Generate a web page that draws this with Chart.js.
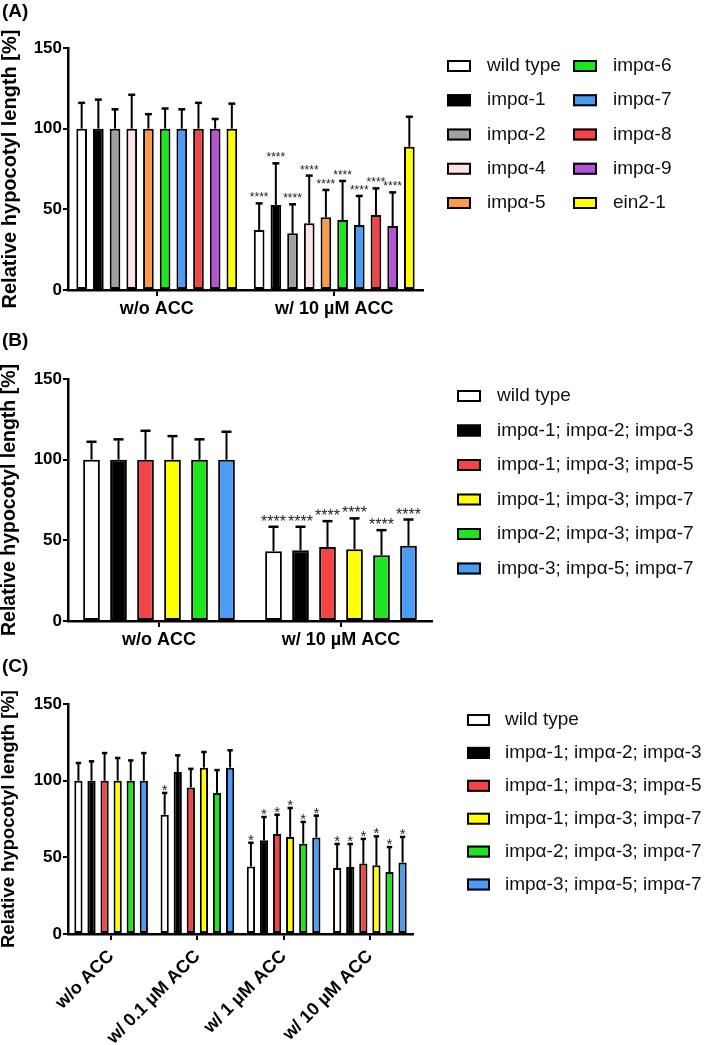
<!DOCTYPE html>
<html><head><meta charset="utf-8">
<script src="https://cdn.jsdelivr.net/npm/chart.js@4.4.1/dist/chart.umd.min.js"></script>
<style>
html,body{margin:0;padding:0;background:#fff;}
body{width:709px;height:1045px;position:relative;overflow:hidden;}
canvas{position:absolute;left:0;}
</style></head><body>
<canvas id="cA" width="709" height="330" style="top:0px"></canvas>
<canvas id="cB" width="709" height="330" style="top:330px"></canvas>
<canvas id="cC" width="709" height="390" style="top:655px"></canvas>
<script>
// ---------- Panel A data ----------
const genotypesA = ['wild type','impα-1','impα-2','impα-4','impα-5','impα-6','impα-7','impα-8','impα-9','ein2-1'];
const categoriesA = ['w/o ACC','w/ 10 µM ACC'];
const meanA_woACC = [100,100,100,100,100,100,100,100,100,100];
const sdA_woACC   = [16,18,12,21,9,12.5,12,16,6,15.5];
const meanA_ACC   = [37.2,52.7,35.1,41.3,45.1,43.4,40.3,46.5,39.7,88.8];
const sdA_ACC     = [16.5,25.8,18,29.6,16.9,24.2,18,16.5,20.8,18.6];
const starsA_ACC  = ['****','****','****','****','****','****','****','****','****',''];
const colorsA = ['#ffffff','#000000','#a0a0a0','#fde3e3','#fb9a45','#1ee61e','#4c9bf5','#f24646','#b453d6','#ffff00'];

// ---------- Panel B data ----------
const genotypesB = ['wild type','impα-1; impα-2; impα-3','impα-1; impα-3; impα-5','impα-1; impα-3; impα-7','impα-2; impα-3; impα-7','impα-3; impα-5; impα-7'];
const categoriesB = ['w/o ACC','w/ 10 µM ACC'];
const meanB_woACC = [100,100,100,100,100,100];
const sdB_woACC   = [11.1,12.6,17.9,14.6,12.6,17.3];
const meanB_ACC   = [43.3,43.9,45.9,44.5,40.8,46.6];
const sdB_ACC     = [15.1,14.5,16,19.1,15.5,16.3];
const starsB_ACC  = ['****','****','****','****','****','****'];
const colorsB = ['#ffffff','#000000','#f24646','#ffff00','#1ee61e','#4c9bf5'];

// ---------- Panel C data ----------
const genotypesC = genotypesB;
const categoriesC = ['w/o ACC','w/ 0.1 µM ACC','w/ 1 µM ACC','w/ 10 µM ACC'];
const meanC_woACC = [100,100,100,100,100,100];
const sdC_woACC   = [11.5,12.6,18,14.8,13.2,18];
const meanC_01    = [77.8,105.6,95.6,108.5,92,108.5];
const sdC_01      = [14.2,10.9,12.1,10.2,14.9,11.3];
const meanC_1     = [44.1,61.1,65.2,63.3,58.9,63];
const sdC_1       = [15.4,15.2,12.6,18.9,14.2,14.2];
const meanC_10    = [43,43.7,45.9,44.8,40.4,46.7];
const sdC_10      = [15.7,15,16.1,18.9,16.3,16.6];
const starsC_01   = ['*','','','','',''];
const starsC_1    = ['*','*','*','*','*','*'];
const starsC_10   = ['*','*','*','*','*','*'];
const colorsC = colorsB;

const yTicks = [0,50,100,150];

// ---------- helpers ----------
const FONT = "'Liberation Sans', Arial, Helvetica, sans-serif";
Chart.defaults.font.family = FONT;
Chart.defaults.color = '#000';

const errorBars = {
  id: 'errorBars',
  afterDatasetsDraw(chart, args, o) {
    const ctx = chart.ctx, ys = chart.scales.y;
    ctx.save();
    chart.data.datasets.forEach((ds, i) => {
      const meta = chart.getDatasetMeta(i);
      meta.data.forEach((bar, j) => {
        const p = bar.getProps(['x','y','width'], true);
        const top = ys.getPixelForValue(ds.data[j] + ds.sd[j]);
        const half = p.width * o.cap / 2;
        ctx.strokeStyle = '#000';
        ctx.lineWidth = o.lw;
        ctx.beginPath();
        ctx.moveTo(p.x, p.y); ctx.lineTo(p.x, top);
        ctx.stroke();
        ctx.lineWidth = o.capLw;
        ctx.beginPath();
        ctx.moveTo(p.x - half, top); ctx.lineTo(p.x + half, top);
        ctx.stroke();
        const s = ds.stars ? ds.stars[j] : '';
        if (s) {
          ctx.fillStyle = '#222';
          ctx.font = o.starSize + 'px ' + FONT;
          ctx.textAlign = 'center';
          ctx.textBaseline = 'alphabetic';
          ctx.fillText(s, p.x, top + o.starDy);
        }
      });
    });
    ctx.restore();
  }
};

const sideLegend = {
  id: 'sideLegend',
  afterDraw(chart, args, o) {
    const ctx = chart.ctx;
    ctx.save();
    ctx.textBaseline = 'middle';
    ctx.textAlign = 'left';
    chart.data.datasets.forEach((ds, i) => {
      const col = Math.floor(i / o.perCol), row = i % o.perCol;
      const bx = o.x[col], by = o.y0 + row * o.dy;
      ctx.fillStyle = ds.backgroundColor;
      ctx.fillRect(bx, by - o.bh / 2, o.bw, o.bh);
      ctx.lineWidth = 2; ctx.strokeStyle = '#000';
      ctx.strokeRect(bx + 1, by - o.bh / 2 + 1, o.bw - 2, o.bh - 2);
      ctx.fillStyle = '#111';
      ctx.font = o.fontSize + 'px ' + FONT;
      ctx.fillText(ds.label, bx + o.tx, by);
    });
    ctx.fillStyle = '#000';
    ctx.font = 'bold 19px ' + FONT;
    ctx.textBaseline = 'top';
    ctx.fillText(o.panel, o.px, o.py);
    ctx.restore();
  }
};

function yScale(titleSize) {
  return {
    min: 0, max: 150,
    afterBuildTicks: s => { s.ticks = yTicks.map(v => ({value: v})); },
    ticks: {color: '#000', font: {size: 17, weight: 'bold'}, padding: 1},
    grid: {display: true, drawOnChartArea: false, drawTicks: true, tickLength: 5, color: '#000', lineWidth: 2},
    border: {display: true, color: '#000', width: 2.5},
    title: {display: true, text: 'Relative hypocotyl length [%]', color: '#000',
            font: {size: titleSize, weight: 'bold', lineHeight: 1}, padding: 0},
    afterFit: s => { s.width = 68; }
  };
}
function xScale(h, rot, pad) {
  return {
    ticks: {color: '#000', font: {size: 18, weight: 'bold'}, maxRotation: rot, minRotation: rot, autoSkip: false, padding: pad},
    grid: {display: true, drawOnChartArea: false, drawTicks: true, tickLength: 6, color: '#000', lineWidth: 2, offset: false},
    border: {display: true, color: '#000', width: 2.5},
    afterFit: s => { s.height = h; }
  };
}

function makeChart(id, labels, datasets, opt) {
  return new Chart(document.getElementById(id), {
    type: 'bar',
    data: {labels, datasets},
    options: {
      responsive: false, animation: false, devicePixelRatio: 1,
      layout: {padding: opt.padding},
      datasets: {bar: {categoryPercentage: opt.catPct, barPercentage: opt.barPct,
                       borderWidth: 2, borderColor: '#000', borderSkipped: false}},
      scales: {x: xScale(opt.xh, opt.rot, opt.xpad), y: yScale(opt.titleSize)},
      plugins: {
        legend: {display: false}, tooltip: {enabled: false},
        errorBars: opt.err,
        sideLegend: opt.leg
      }
    },
    plugins: [errorBars, sideLegend]
  });
}

// Panel A
makeChart('cA', categoriesA, genotypesA.map((g, i) => ({
  label: g, backgroundColor: colorsA[i],
  data: [meanA_woACC[i], meanA_ACC[i]],
  sd: [sdA_woACC[i], sdA_ACC[i]],
  stars: ['', starsA_ACC[i]]
})), {
  padding: {left: 0, right: 286, top: 48, bottom: 0},
  catPct: 0.94, barPct: 0.64, xh: 40, rot: 0, xpad: 2, titleSize: 20,
  err: {cap: 0.65, lw: 2, capLw: 2.5, starSize: 12, starDy: -2},
  leg: {x: [447, 573], tx: 40, y0: 66, dy: 34.25, perCol: 5, bw: 24, bh: 12, fontSize: 19, panel: '(A)', px: 2, py: 2}
});

// Panel B
makeChart('cB', categoriesB, genotypesB.map((g, i) => ({
  label: g, backgroundColor: colorsB[i],
  data: [meanB_woACC[i], meanB_ACC[i]],
  sd: [sdB_woACC[i], sdB_ACC[i]],
  stars: ['', starsB_ACC[i]]
})), {
  padding: {left: 0, right: 277, top: 49, bottom: 0},
  catPct: 0.89, barPct: 0.62, xh: 39, rot: 0, xpad: 2, titleSize: 19.5,
  err: {cap: 0.6, lw: 2, capLw: 2.5, starSize: 16, starDy: 0},
  leg: {x: [457], tx: 40, y0: 66, dy: 34.5, perCol: 6, bw: 24, bh: 12, fontSize: 19, panel: '(B)', px: 2, py: 1}
});

// Panel C
makeChart('cC', categoriesC, genotypesC.map((g, i) => ({
  label: g, backgroundColor: colorsC[i],
  data: [meanC_woACC[i], meanC_01[i], meanC_1[i], meanC_10[i]],
  sd: [sdC_woACC[i], sdC_01[i], sdC_1[i], sdC_10[i]],
  stars: ['', starsC_01[i], starsC_1[i], starsC_10[i]]
})), {
  padding: {left: 0, right: 296, top: 49, bottom: 1},
  catPct: 0.91, barPct: 0.63, xh: 110, rot: 45, xpad: 6, titleSize: 18.5,
  err: {cap: 0.65, lw: 2, capLw: 2.5, starSize: 15, starDy: 2},
  leg: {x: [467], tx: 38, y0: 65, dy: 32.9, perCol: 6, bw: 23, bh: 12, fontSize: 19, panel: '(C)', px: 2, py: 2}
});
</script>
</body></html>
